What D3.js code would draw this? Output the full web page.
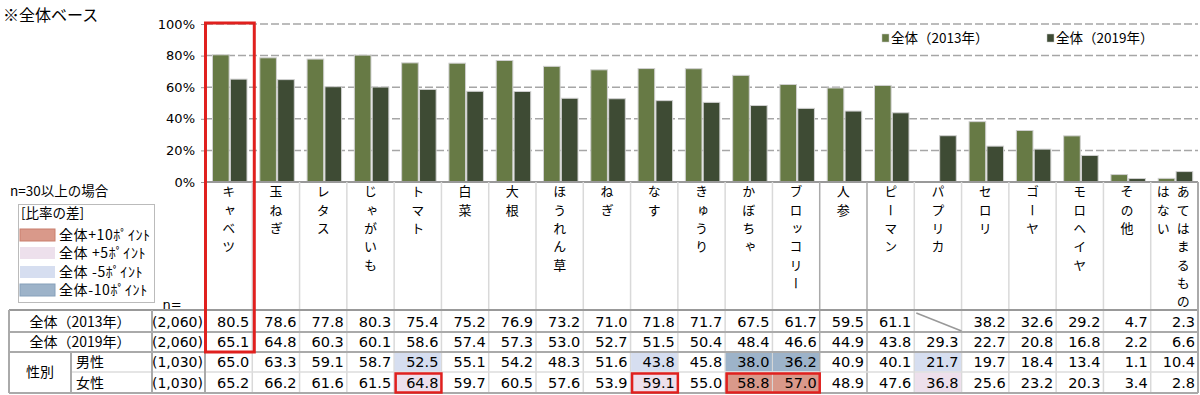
<!DOCTYPE html><html lang="ja"><head><meta charset="utf-8">
<title>全体ベース</title>
<script src="https://cdn.jsdelivr.net/npm/d3@7"></script>
<style>
body { margin: 0; background: #fff; }
svg { display: block; font-family: "Noto Sans CJK JP", sans-serif; }
.num { font-family: "DejaVu Sans", "Noto Sans CJK JP", sans-serif; }
</style>
</head>
<body>
<div id="chart"></div>
<script>
// categories (vegetables)
const categories = ["キャベツ", "玉ねぎ", "レタス", "じゃがいも", "トマト", "白菜", "大根", "ほうれん草", "ねぎ", "なす", "きゅうり", "かぼちゃ", "ブロッコリー", "人参", "ピーマン", "パプリカ", "セロリ", "ゴーヤ", "モロヘイヤ", "その他", "あてはまるものはない"];
const series = ["全体（2013年）", "全体（2019年）"];
const v2013 = [80.5, 78.6, 77.8, 80.3, 75.4, 75.2, 76.9, 73.2, 71.0, 71.8, 71.7, 67.5, 61.7, 59.5, 61.1, null, 38.2, 32.6, 29.2, 4.7, 2.3];
const v2019 = [65.1, 64.8, 60.3, 60.1, 58.6, 57.4, 57.3, 53.0, 52.7, 51.5, 50.4, 48.4, 46.6, 44.9, 43.8, 29.3, 22.7, 20.8, 16.8, 2.2, 6.6];
const vMale = [65.0, 63.3, 59.1, 58.7, 52.5, 55.1, 54.2, 48.3, 51.6, 43.8, 45.8, 38.0, 36.2, 40.9, 40.1, 21.7, 19.7, 18.4, 13.4, 1.1, 10.4];
const vFemale = [65.2, 66.2, 61.6, 61.5, 64.8, 59.7, 60.5, 57.6, 53.9, 59.1, 55.0, 58.8, 57.0, 48.9, 47.6, 36.8, 25.6, 23.2, 20.3, 3.4, 2.8];
// difference markers (points vs 全体)
const diffMale = [0, 0, 0, 0, -5, 0, 0, 0, 0, -5, 0, -10, -10, 0, 0, -5, 0, 0, 0, 0, 0];
const diffFemale = [0, 0, 0, 0, 5, 0, 0, 0, 0, 5, 0, 10, 10, 0, 0, 5, 0, 0, 0, 0, 0];
const yTicks = [0, 20, 40, 60, 80, 100];
const rowLabels = ["全体（2013年）", "全体（2019年）", "男性", "女性"];
const rowN = ["(2,060)", "(2,060)", "(1,030)", "(1,030)"];
const legendItems = [
	{ d: 10, label: "全体+10ﾎﾟｲﾝﾄ" },
	{ d: 5, label: "全体 +5ﾎﾟｲﾝﾄ" },
	{ d: -5, label: "全体 -5ﾎﾟｲﾝﾄ" },
	{ d: -10, label: "全体-10ﾎﾟｲﾝﾄ" }
];
// highlighted (red box) columns in the 女性 row
const femaleBoxes = [[4, 4], [9, 9], [11, 12]];

const W = 1200, H = 395;
const diffColor = { "10": "#d9998a", "5": "#ede0ec", "-5": "#d6def0", "-10": "#9db3c9" };
const c2013 = "#677a45", c2019 = "#3e4b34";
const red = "#e0201e";

const svg = d3.select("#chart").append("svg").attr("width", W).attr("height", H);

const x = d3.scaleBand().domain(categories).range([205, 1198]);
const xs = d3.scaleBand().domain(series).range([7.5, 42]).paddingInner(0.07);
const y = d3.scaleLinear().domain([0, 100]).range([182, 24]);

// title
svg.append("text").attr("x", 3).attr("y", 21).attr("font-size", 16).text("※全体ベース");

// grid
svg.append("g").selectAll("line").data(yTicks.filter(d => d > 0)).join("line")
	.attr("x1", 205).attr("x2", 1198)
	.attr("y1", d => y(d)).attr("y2", d => y(d))
	.attr("stroke", "#a6a6a6").attr("stroke-width", 1.5).attr("stroke-dasharray", "8,3");

// y axis
const yAxis = svg.append("g").attr("class", "num").attr("transform", "translate(205,0)")
	.call(d3.axisLeft(y).tickValues(yTicks).tickFormat(d => d + "%").tickSize(4).tickPadding(6));
yAxis.selectAll("text").attr("font-size", 13).attr("fill", "#000").attr("font-family", "DejaVu Sans");
yAxis.select(".domain").attr("stroke", "#999");
yAxis.selectAll(".tick line").attr("stroke", "#999");

// bars
const groups = svg.append("g").selectAll("g").data(categories).join("g")
	.attr("transform", d => `translate(${x(d)},0)`);
groups.selectAll("rect").data((d, i) => [
	{ s: series[0], v: v2013[i], c: c2013 },
	{ s: series[1], v: v2019[i], c: c2019 }
].filter(e => e.v != null)).join("rect")
	.attr("x", e => xs(e.s)).attr("width", xs.bandwidth())
	.attr("y", e => y(e.v)).attr("height", e => y(0) - y(e.v))
	.attr("fill", e => e.c).attr("stroke", "#d0d0d0").attr("stroke-width", 1);

// x axis line
svg.append("line").attr("x1", 205).attr("x2", 1198).attr("y1", 182).attr("y2", 182)
	.attr("stroke", "#999").attr("stroke-width", 2);

// column separators (labels + table)
svg.append("g").selectAll("line").data(categories.slice(1)).join("line")
	.attr("x1", d => x(d)).attr("x2", d => x(d)).attr("y1", 182).attr("y2", 393)
	.attr("stroke", (d, i) => (i === 12 || i === 13) ? "#aaa" : "#d9d9d9").attr("stroke-width", 1.5);

// category labels (vertical)
const labelLines = categories.map(c => c === "あてはまるものはない" ? ["あてはまるもの", "はない"] : [c]);
categories.forEach((c, i) => {
	const lines = labelLines[i];
	const cx = x(c) + x.bandwidth() / 2;
	lines.forEach((t, j) => {
		const off = lines.length > 1 ? (j === 0 ? 9 : -11) : 0;
		svg.append("text")
			.attr("x", cx + off).attr("y", 185)
			.attr("font-size", 13)
			.style("writing-mode", "vertical-rl")
			.style("letter-spacing", "5.3px")
			.text(t);
	});
});

// legend (series)
const leg = svg.append("g").attr("font-size", 13.5);
series.forEach((s, i) => {
	const lx = [882, 1047][i];
	leg.append("rect").attr("x", lx).attr("y", 34).attr("width", 7).attr("height", 8)
		.attr("fill", i === 0 ? c2013 : c2019).attr("stroke", "#ccc").attr("stroke-width", 0.5);
	leg.append("text").attr("x", lx + 9).attr("y", 43).text(s);
});

// n note and diff legend
svg.append("text").attr("x", 10).attr("y", 196).attr("font-size", 13.5).text("n=30以上の場合");
svg.append("rect").attr("x", 18.5).attr("y", 204.5).attr("width", 136).attr("height", 98)
	.attr("fill", "#fff").attr("stroke", "#bbb");
svg.append("text").attr("x", 21).attr("y", 218).attr("font-size", 13.5).text("[比率の差]");
legendItems.forEach((d, i) => {
	const ly = [229, 247, 266, 284][i];
	svg.append("rect").attr("x", 20).attr("y", ly).attr("width", 35).attr("height", 12)
		.attr("fill", diffColor[d.d]).attr("stroke", d.d === 10 ? "#c97f6c" : d.d === -10 ? "#86a0ba" : "none");
	svg.append("text").attr("x", 59).attr("y", ly + 11).attr("font-size", 14)
		.style("letter-spacing", "0.6px").text(d.label);
});

// table
const rowTop = [312, 332, 352, 372];
const rowBot = [332, 352, 372, 393];
const rowVals = [v2013, v2019, vMale, vFemale];
const rowDiff = [null, null, diffMale, diffFemale];
svg.append("text").attr("x", 172).attr("y", 309).attr("font-size", 13).attr("class", "num")
	.attr("text-anchor", "middle").text("n=");

// cell fills
rowVals.forEach((vals, r) => {
	if (!rowDiff[r]) return;
	svg.append("g").selectAll("rect").data(categories).join("rect")
		.filter((d, i) => rowDiff[r][i] !== 0)
		.attr("x", d => x(d) + 0.5).attr("y", rowTop[r] + 0.5)
		.attr("width", x.bandwidth() - 1).attr("height", rowBot[r] - rowTop[r] - 1)
		.attr("fill", d => diffColor[rowDiff[r][categories.indexOf(d)]]);
});

// horizontal lines
const hLines = [
	{ y: 310, x1: 9, c: "#999", w: 2 },
	{ y: 332, x1: 9, c: "#aaa", w: 2 },
	{ y: 352, x1: 9, c: "#aaa", w: 2 },
	{ y: 372, x1: 71, c: "#ddd", w: 1.5 },
	{ y: 393, x1: 9, c: "#aaa", w: 2 }
];
svg.append("g").selectAll("line").data(hLines).join("line")
	.attr("x1", d => d.x1).attr("x2", 1198).attr("y1", d => d.y).attr("y2", d => d.y)
	.attr("stroke", d => d.c).attr("stroke-width", d => d.w);
// left table verticals
[[9, 310, 393], [152, 310, 393], [71, 352, 393], [205, 310, 393], [1198, 182, 393]].forEach(([lx, y1, y2]) => {
	svg.append("line").attr("x1", lx).attr("x2", lx).attr("y1", y1).attr("y2", y2)
		.attr("stroke", "#aaa").attr("stroke-width", 2);
});

// row labels
svg.append("text").attr("x", 80).attr("y", 327).attr("font-size", 14).attr("text-anchor", "middle").text(rowLabels[0]);
svg.append("text").attr("x", 80).attr("y", 347).attr("font-size", 14).attr("text-anchor", "middle").text(rowLabels[1]);
svg.append("text").attr("x", 40).attr("y", 377).attr("font-size", 14).attr("text-anchor", "middle").text("性別");
svg.append("text").attr("x", 76).attr("y", 367).attr("font-size", 14).text(rowLabels[2]);
svg.append("text").attr("x", 76).attr("y", 388).attr("font-size", 14).text(rowLabels[3]);
rowN.forEach((n, r) => {
	svg.append("text").attr("class", "num").attr("x", 203).attr("y", rowBot[r] - 5)
		.attr("font-size", 14).attr("text-anchor", "end").text(n);
});

// values
rowVals.forEach((vals, r) => {
	svg.append("g").attr("class", "num").selectAll("text").data(categories).join("text")
		.filter((d, i) => vals[i] != null)
		.attr("x", d => x(d) + x.bandwidth() - 3).attr("y", rowBot[r] - 5)
		.attr("font-size", 14.5).attr("text-anchor", "end")
		.text(d => vals[categories.indexOf(d)].toFixed(1));
});

// no-data diagonal (パプリカ 2013)
categories.forEach((c, i) => {
	if (v2013[i] == null) {
		svg.append("line").attr("x1", x(c) + 2).attr("y1", 313).attr("x2", x(c) + x.bandwidth()).attr("y2", 331)
			.attr("stroke", "#999").attr("stroke-width", 1.5);
	}
});

// red highlight boxes
svg.append("rect").attr("x", x(categories[0]) + 0.5).attr("y", 23)
	.attr("width", x.bandwidth() + 1.5).attr("height", 352 - 23)
	.attr("fill", "none").attr("stroke", red).attr("stroke-width", 3);
femaleBoxes.forEach(([a, b]) => {
	svg.append("rect").attr("x", x(categories[a]) + 1.5).attr("y", 373.5)
		.attr("width", x(categories[b]) + x.bandwidth() - x(categories[a]) - 1.5).attr("height", 19)
		.attr("fill", "none").attr("stroke", red).attr("stroke-width", 2.5);
});
</script>
</body>
</html>
